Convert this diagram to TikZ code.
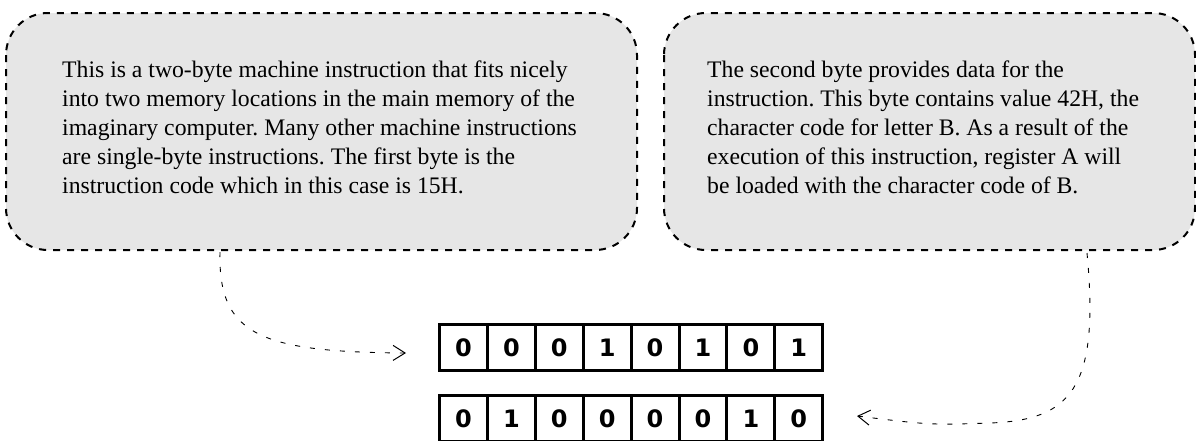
\documentclass[tikz,border=0pt]{standalone}
\usepackage{fontspec}
\setmainfont{Liberation Serif}
\newfontfamily\bitfont{DejaVu Sans}
\usetikzlibrary{arrows.meta}
\definecolor{bubblegray}{HTML}{E6E6E6}
\tikzset{
  bubble/.style={draw=black, fill=bubblegray, line width=2pt, dash pattern=on 7pt off 7pt,
    rounded corners=42pt, inner sep=0pt, outer sep=0pt},
  bubbletext/.style={anchor=north west, inner sep=0pt, align=left,
    font=\fontsize{23.7}{29}\selectfont},
  bitcell/.style={draw=black, line width=3pt, minimum width=47.9pt, minimum height=46pt,
    inner sep=0pt, outer sep=0pt, font=\bitfont\bfseries\fontsize{24}{30}\selectfont},
  pointer/.style={line width=0.9pt, dash pattern=on 5pt off 10pt,
    -{Straight Barb[length=12pt,width=15pt,line width=1pt]}}
}
\frenchspacing
\begin{document}
\begin{tikzpicture}[x=1pt,y=-1pt]
\useasboundingbox (0,0) rectangle (1196,440);
\clip (0,0) rectangle (1196,440);
% bubbles
\draw[bubble] (6,13) rectangle (637,250);
\node[inner sep=0pt, minimum width=631pt, minimum height=237pt] (bub1) at (321.5,131.5) {};
\draw[bubble] (664,13) rectangle (1195,250);
\node[inner sep=0pt, minimum width=531pt, minimum height=237pt] (bub2) at (929.5,131.5) {};
\node[bubbletext] (txt1) at (62,60.5) {\frenchspacing This is a two-byte machine instruction that fits nicely\\
into two memory locations in the main memory of the\\
imaginary computer. Many other machine instructions\\
are single-byte instructions. The first byte is the\\
instruction code which in this case is 15H.};
\node[bubbletext] (txt2) at (707,60.5) {\frenchspacing The second byte provides data for the\\
instruction. This byte contains value 42H, the\\
character code for letter B. As a result of the\\
execution of this instruction, register A will\\
be loaded with the character code of B.};
% registers
\foreach \b [count=\i] in {0,0,0,1,0,1,0,1}
  \node[bitcell] (a\i) at ({463.45+47.9*(\i-1)},347.5) {\b};
\foreach \b [count=\i] in {0,1,0,0,0,0,1,0}
  \node[bitcell] (b\i) at ({463.45+47.9*(\i-1)},418.5) {\b};
% pointers
\coordinate (s1) at (220,252);
\coordinate (e1) at (406,353);
\coordinate (s2) at (1087,253);
\coordinate (m2) at (990,423);
\coordinate (e2) at (857,416);
\draw[pointer] (s1) .. controls (218,335) and (260,352) .. (e1);
\draw[pointer] (s2) .. controls (1100,390) and (1070,420) .. (m2) .. controls (930,425) .. (e2);
\end{tikzpicture}
\end{document}
